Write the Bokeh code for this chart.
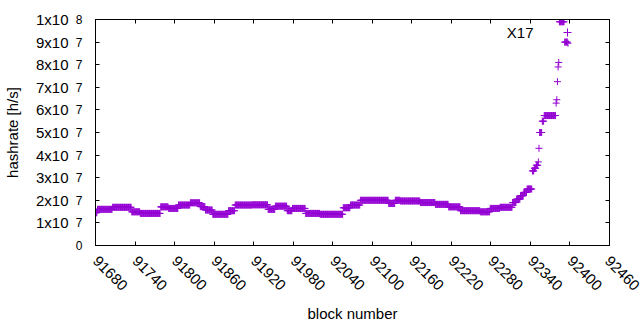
import math
import numpy as np
from bokeh.plotting import figure
from bokeh.models import (LinearAxis, FixedTicker, Range1d, Label, Legend,
                          LegendItem, ColumnDataSource)
from bokeh.embed import file_html
from bokeh.resources import INLINE

# ---------------- data ----------------
first_block = 91680
# hashrate plateaus [h/s] and how many consecutive blocks share each value
levels = [1.45e7, 1.60e7, 1.69e7, 1.49e7, 1.42e7, 1.71e7, 1.64e7, 1.79e7, 1.89e7, 1.72e7,
          1.57e7, 1.38e7, 1.54e7, 1.79e7, 1.80e7, 1.60e7, 1.74e7, 1.54e7, 1.64e7, 1.42e7,
          1.38e7, 1.67e7, 1.79e7, 2.00e7, 1.86e7, 2.00e7, 1.97e7, 1.90e7, 1.82e7, 1.71e7,
          1.54e7, 1.49e7, 1.64e7, 1.69e7, 1.90e7, 2.05e7, 2.20e7, 2.35e7, 2.50e7,
          3.30e7, 3.42e7, 3.55e7, 3.70e7, 4.30e7, 5.00e7, 5.50e7, 5.75e7, 6.30e7, 6.45e7,
          7.25e7, 7.90e7, 8.10e7, 9.90e7, 9.00e7, 8.95e7]
run_lengths = [3, 23, 29, 13, 31, 12, 15, 18, 15, 8,
               11, 24, 10, 26, 24, 11, 18, 8, 20, 22,
               35, 11, 15, 43, 10, 8, 30, 23, 20, 18,
               30, 15, 15, 19, 6, 6, 5, 5, 8,
               3, 3, 3, 1, 1, 4, 3, 18, 1, 1,
               1, 1, 1, 8, 5, 1]

x_ticks = [91680, 91740, 91800, 91860, 91920, 91980, 92040, 92100,
           92160, 92220, 92280, 92340, 92400, 92460]
y_ticks = [0, 10000000, 20000000, 30000000, 40000000, 50000000,
           60000000, 70000000, 80000000, 90000000, 100000000]
y_tick_base = ["", "1x10", "2x10", "3x10", "4x10", "5x10", "6x10", "7x10", "8x10", "9x10", "1x10"]
y_tick_exp = ["0", "7", "7", "7", "7", "7", "7", "7", "7", "7", "8"]
series_name = "X17"
x_title = "block number"
y_title = "hashrate [h/s]"

hashrate = np.repeat(np.array(levels), run_lengths)
blocks = first_block + np.arange(len(hashrate))
src = ColumnDataSource(dict(block=blocks, hashrate=hashrate))

FONT = "Liberation Sans"
PURPLE = "#9400d3"

p = figure(width=640, height=330, output_backend="svg", toolbar_location=None,
           x_range=Range1d(x_ticks[0], x_ticks[-1]), y_range=Range1d(y_ticks[0], y_ticks[-1]),
           x_axis_location=None, y_axis_location=None,
           min_border_left=95, min_border_right=31, min_border_top=19, min_border_bottom=85)
p.grid.visible = False
p.outline_line_color = "black"
p.outline_line_width = 1
p.outline_line_alpha = 1.0
p.background_fill_color = "white"
p.border_fill_color = "white"

def base_axis(ticks, tick_in=4, **kw):
    ax = LinearAxis(ticker=FixedTicker(ticks=ticks), major_tick_in=tick_in, major_tick_out=0,
                    minor_tick_line_color=None, axis_line_color="black",
                    major_tick_line_color="black",
                    major_label_text_font=FONT, major_label_text_color="black",
                    axis_label_text_font=FONT, axis_label_text_color="black",
                    axis_label_text_font_style="normal", **kw)
    return ax

# bottom axis with rotated labels
xb = base_axis(x_ticks, axis_label=x_title, major_label_orientation=-math.pi / 4,
               major_label_standoff=13, major_label_text_font_size="15px",
               axis_label_text_font_size="15px", axis_label_standoff=7)
p.add_layout(xb, "below")
# mirrored ticks on top and right (no labels)
xt = base_axis(x_ticks, major_label_standoff=0,
               major_label_overrides={t: "" for t in x_ticks})
p.add_layout(xt, "above")
yr = base_axis(y_ticks, major_label_standoff=0,
               major_label_overrides={t: "" for t in y_ticks})
p.add_layout(yr, "right")

# left: exponent labels (closest to the frame) and mantissa labels
ya = base_axis(y_ticks, major_label_standoff=13, major_label_text_font_size="12px",
               major_label_text_baseline="alphabetic",
               major_label_overrides={t: e for t, e in zip(y_ticks, y_tick_exp)})
p.add_layout(ya, "left")
yb = base_axis(y_ticks, tick_in=0, major_label_standoff=4, major_label_text_font_size="15px",
               axis_label=y_title, axis_label_text_font_size="15px",
               axis_label_standoff=12,
               major_label_overrides={t: b for t, b in zip(y_ticks, y_tick_base)})
yb.major_tick_line_color = None
yb.axis_line_color = None
p.add_layout(yb, "left")

r = p.scatter(x="block", y="hashrate", source=src, marker="cross", size=7,
              line_color=PURPLE, line_width=1)

# key: text to the left of the sample, as in the reference
p.add_layout(Label(x=x_ticks[-1], y=y_ticks[-1], x_offset=-76, y_offset=-13,
                   text=series_name, text_align="right", text_baseline="middle",
                   text_font=FONT, text_font_size="15px", text_color="black"))
legend = Legend(items=[LegendItem(label=series_name, renderers=[r])],
                location=(462, 203), orientation="vertical",
                border_line_color=None, background_fill_alpha=0,
                glyph_width=20, glyph_height=20, padding=0, margin=0,
                label_text_font=FONT, label_text_font_size="15px", label_text_color=None)
p.add_layout(legend, "center")

open("out.html", "w").write(file_html(p, INLINE))
